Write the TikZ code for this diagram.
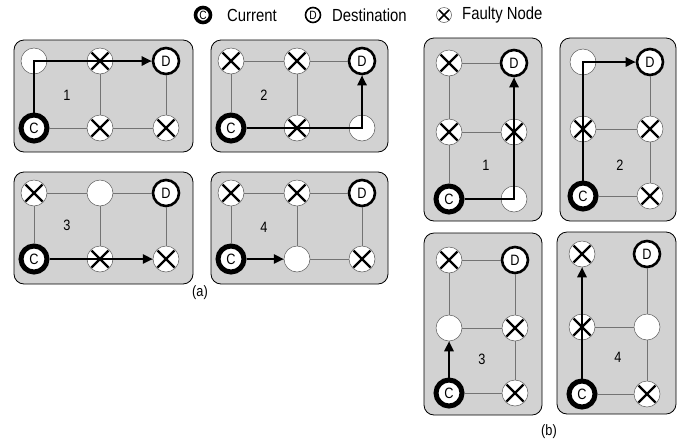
\documentclass[tikz,border=0pt]{standalone}
\usepackage{fontspec}
% narrow sans face: the labels are set condensed
\setmainfont[FakeStretch=0.85]{Liberation Sans}
\usetikzlibrary{arrows.meta}

\tikzset{
  panel/.style={draw=black, line width=0.8pt, fill=gray!35, rounded corners=10pt},
  link/.style={draw=black!55, line width=0.7pt},
  route/.style={draw=black, line width=2.5pt, -{Triangle[length=10pt,width=9pt]}},
  nodebase/.style={circle, minimum size=26pt, inner sep=0pt, fill=white,
    font=\fontsize{15}{15}\selectfont},
  free/.style={nodebase, draw=black!65, line width=0.5pt},
  fault/.style={free, path picture={
    \draw[black, line width=2.3pt]
      (path picture bounding box.center) +(-8.5,-8.5) -- +(8.5,8.5)
      (path picture bounding box.center) +(-8.5,8.5) -- +(8.5,-8.5);}},
  cur/.style={nodebase, draw=black, line width=5pt},
  dest/.style={nodebase, draw=black, line width=2.6pt},
  % small versions used in the key at the top
  keybase/.style={circle, minimum size=15pt, inner sep=0pt, fill=white,
    font=\fontsize{12}{12}\selectfont},
  keycur/.style={keybase, draw=black, line width=3.6pt},
  keydest/.style={keybase, draw=black, line width=1.6pt},
  keyfault/.style={keybase, draw=black!65, line width=0.5pt, path picture={
    \draw[black, line width=1.7pt]
      (path picture bounding box.center) +(-5.5,-5.5) -- +(5.5,5.5)
      (path picture bounding box.center) +(-5.5,5.5) -- +(5.5,-5.5);}},
  keytext/.style={anchor=west, inner sep=0pt, font=\fontsize{17.5}{17.5}\selectfont},
  num/.style={font=\fontsize{15}{15}\selectfont},
  caption/.style={font=\fontsize{15}{15}\selectfont}
}

\begin{document}
\begin{tikzpicture}[x=1pt, y=-1pt]
\useasboundingbox (0,0) rectangle (693,440);

% key
\node[keycur]  (kc) at (203,15) {C};
\node[keytext] (kct) at (227,15) {Current};
\node[keydest] (kd) at (313,15) {D};
\node[keytext] (kdt) at (332,15) {Destination};
\node[keyfault] (kx) at (444,15) {};
\node[keytext] (kxt) at (462,15) {Faulty Node};

% ---------- (a): 2 x 3 meshes ----------
% a1
\begin{scope}[shift={(14,40)}]
  \draw[panel] (0,0) rectangle (179,112);
  \node[num] (a1n) at (53,55) {1};
  \node[free]  (a1tl) at (20,21) {};
  \node[fault] (a1tm) at (86,21) {};
  \node[dest]  (a1tr) at (152,21) {D};
  \node[cur]   (a1bl) at (20,88) {C};
  \node[fault] (a1bm) at (86,88) {};
  \node[fault] (a1br) at (152,88) {};
  \draw[link] (a1tl) -- (a1tm); \draw[link] (a1tm) -- (a1tr);
  \draw[link] (a1bl) -- (a1bm); \draw[link] (a1bm) -- (a1br);
  \draw[link] (a1tl) -- (a1bl); \draw[link] (a1tm) -- (a1bm); \draw[link] (a1tr) -- (a1br);
  \draw[route] (a1bl) -- (a1tl.center) -- (a1tr);
\end{scope}

% a2
\begin{scope}[shift={(211,40)}]
  \draw[panel] (0,0) rectangle (177,112);
  \node[num] (a2n) at (53,55) {2};
  \node[fault] (a2tl) at (20,21) {};
  \node[fault] (a2tm) at (86,21) {};
  \node[dest]  (a2tr) at (151,21) {D};
  \node[cur]   (a2bl) at (20,88) {C};
  \node[fault] (a2bm) at (86,88) {};
  \node[free]  (a2br) at (151,88) {};
  \draw[link] (a2tl) -- (a2tm); \draw[link] (a2tm) -- (a2tr);
  \draw[link] (a2bl) -- (a2bm); \draw[link] (a2bm) -- (a2br);
  \draw[link] (a2tl) -- (a2bl); \draw[link] (a2tm) -- (a2bm); \draw[link] (a2tr) -- (a2br);
  \draw[route] (a2bl) -- (a2br.center) -- (a2tr);
\end{scope}

% a3
\begin{scope}[shift={(14,172)}]
  \draw[panel] (0,0) rectangle (179,112);
  \node[num] (a3n) at (53,53) {3};
  \node[fault] (a3tl) at (20,21) {};
  \node[free]  (a3tm) at (86,21) {};
  \node[dest]  (a3tr) at (152,21) {D};
  \node[cur]   (a3bl) at (20,87) {C};
  \node[fault] (a3bm) at (86,87) {};
  \node[fault] (a3br) at (152,87) {};
  \draw[link] (a3tl) -- (a3tm); \draw[link] (a3tm) -- (a3tr);
  \draw[link] (a3bl) -- (a3bm); \draw[link] (a3bm) -- (a3br);
  \draw[link] (a3tl) -- (a3bl); \draw[link] (a3tm) -- (a3bm); \draw[link] (a3tr) -- (a3br);
  \draw[route] (a3bl) -- (a3br);
\end{scope}

% a4
\begin{scope}[shift={(211,172)}]
  \draw[panel] (0,0) rectangle (177,112);
  \node[num] (a4n) at (53,55) {4};
  \node[fault] (a4tl) at (20,21) {};
  \node[fault] (a4tm) at (86,21) {};
  \node[dest]  (a4tr) at (151,21) {D};
  \node[cur]   (a4bl) at (20,87) {C};
  \node[free]  (a4bm) at (86,87) {};
  \node[fault] (a4br) at (151,87) {};
  \draw[link] (a4tl) -- (a4tm); \draw[link] (a4tm) -- (a4tr);
  \draw[link] (a4bl) -- (a4bm); \draw[link] (a4bm) -- (a4br);
  \draw[link] (a4tl) -- (a4bl); \draw[link] (a4tm) -- (a4bm); \draw[link] (a4tr) -- (a4br);
  \draw[route] (a4bl) -- (a4bm);
\end{scope}

\node[caption] (capa) at (200,293) {(a)};

% ---------- (b): 3 x 2 meshes ----------
% b1
\begin{scope}[shift={(424,38)}]
  \draw[panel] (0,0) rectangle (118,183);
  \node[num] (b1n) at (62,127) {1};
  \node[fault] (b1tl) at (25,25) {};
  \node[dest]  (b1tr) at (90,25) {D};
  \node[fault] (b1ml) at (25,94) {};
  \node[fault] (b1mr) at (90,94) {};
  \node[cur]   (b1bl) at (25,161) {C};
  \node[free]  (b1br) at (90,161) {};
  \draw[link] (b1tl) -- (b1tr); \draw[link] (b1ml) -- (b1mr); \draw[link] (b1bl) -- (b1br);
  \draw[link] (b1tl) -- (b1ml); \draw[link] (b1ml) -- (b1bl);
  \draw[link] (b1tr) -- (b1mr); \draw[link] (b1mr) -- (b1br);
  \draw[route] (b1bl) -- (b1br.center) -- (b1tr);
\end{scope}

% b2
\begin{scope}[shift={(560,38)}]
  \draw[panel] (0,0) rectangle (116,183);
  \node[num] (b2n) at (60,127) {2};
  \node[free]  (b2tl) at (23,24) {};
  \node[dest]  (b2tr) at (90,24) {D};
  \node[fault] (b2ml) at (23,91) {};
  \node[fault] (b2mr) at (90,91) {};
  \node[cur]   (b2bl) at (23,158) {C};
  \node[fault] (b2br) at (90,158) {};
  \draw[link] (b2tl) -- (b2tr); \draw[link] (b2ml) -- (b2mr); \draw[link] (b2bl) -- (b2br);
  \draw[link] (b2tl) -- (b2ml); \draw[link] (b2ml) -- (b2bl);
  \draw[link] (b2tr) -- (b2mr); \draw[link] (b2mr) -- (b2br);
  \draw[route] (b2bl) -- (b2tl.center) -- (b2tr);
\end{scope}

% b3
\begin{scope}[shift={(424,233)}]
  \draw[panel] (0,0) rectangle (118,182);
  \node[num] (b3n) at (58,126) {3};
  \node[fault] (b3tl) at (25,27) {};
  \node[dest]  (b3tr) at (91,27) {D};
  \node[free]  (b3ml) at (25,95) {};
  \node[fault] (b3mr) at (91,95) {};
  \node[cur]   (b3bl) at (25,160) {C};
  \node[fault] (b3br) at (91,160) {};
  \draw[link] (b3tl) -- (b3tr); \draw[link] (b3ml) -- (b3mr); \draw[link] (b3bl) -- (b3br);
  \draw[link] (b3tl) -- (b3ml); \draw[link] (b3ml) -- (b3bl);
  \draw[link] (b3tr) -- (b3mr); \draw[link] (b3mr) -- (b3br);
  \draw[route] (b3bl) -- (b3ml);
\end{scope}

% b4
\begin{scope}[shift={(557,232)}]
  \draw[panel] (0,0) rectangle (119,182);
  \node[num] (b4n) at (61,125) {4};
  \node[fault] (b4tl) at (25,22) {};
  \node[dest]  (b4tr) at (90,22) {D};
  \node[fault] (b4ml) at (25,95) {};
  \node[free]  (b4mr) at (90,95) {};
  \node[cur]   (b4bl) at (25,162) {C};
  \node[fault] (b4br) at (90,162) {};
  \draw[link] (b4ml) -- (b4mr); \draw[link] (b4bl) -- (b4br);
  \draw[link] (b4tl) -- (b4ml); \draw[link] (b4ml) -- (b4bl);
  \draw[link] (b4tr) -- (b4mr); \draw[link] (b4mr) -- (b4br);
  \draw[route] (b4bl) -- (b4tl);
\end{scope}

\node[caption] (capb) at (549,432) {(b)};
\end{tikzpicture}
\end{document}
